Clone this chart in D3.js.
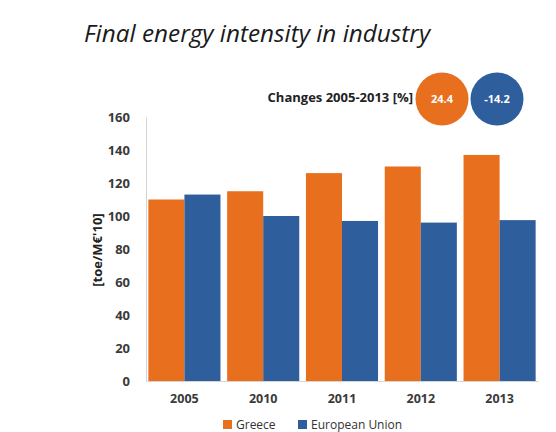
<!DOCTYPE html>
<html>
<head>
<meta charset="utf-8">
<script src="https://cdn.jsdelivr.net/npm/d3@7"></script>
<style>
	body { margin: 0; background: #fff; }
	text { font-family: "Open Sans", "Liberation Sans", sans-serif; }
</style>
</head>
<body>
<div id="chart"></div>
<script>
// data
var years = ["2005", "2010", "2011", "2012", "2013"];
var seriesNames = ["Greece", "European Union"];
var greece = [110, 115, 126, 130, 137];
var eu = [113, 100, 97, 96, 97.5];
var changes = ["24.4", "-14.2"];
var yTicks = [0, 20, 40, 60, 80, 100, 120, 140, 160];

var colors = ["#E86F1E", "#2F5E9C"];

var svgWidth = 556;
var svgHeight = 432;

var margin = { top: 117, right: 18, bottom: 51, left: 146 };
var width = svgWidth - margin.left - margin.right;
var height = svgHeight - margin.top - margin.bottom;

var svg = d3.select("#chart")
	.append("svg")
	.attr("width", svgWidth)
	.attr("height", svgHeight);

// title
svg.append("text")
	.attr("x", 84)
	.attr("y", 42)
	.attr("font-size", 24.3)
	.attr("font-style", "italic")
	.attr("fill", "#1a1a1a")
	.text("Final energy intensity in industry");

// changes badge
svg.append("text")
	.attr("x", 413)
	.attr("y", 102)
	.attr("text-anchor", "end")
	.attr("font-size", 13)
	.attr("font-weight", "bold")
	.attr("fill", "#222")
	.text("Changes 2005-2013 [%]");

var badgeX = [442, 497];
changes.forEach(function(c, i) {
	svg.append("circle")
		.attr("cx", badgeX[i])
		.attr("cy", 99)
		.attr("r", 26.5)
		.attr("fill", colors[i]);
	svg.append("text")
		.attr("x", badgeX[i])
		.attr("y", 103)
		.attr("text-anchor", "middle")
		.attr("font-size", 11)
		.attr("font-weight", "bold")
		.attr("fill", "#fff")
		.text(c);
});

var chartGroup = svg.append("g")
	.attr("transform", `translate(${margin.left}, ${margin.top})`);

var x0 = d3.scaleBand()
	.domain(years)
	.range([0, width])
	.paddingInner(0.085)
	.paddingOuter(0.03);

var x1 = d3.scaleBand()
	.domain(seriesNames)
	.range([0, x0.bandwidth()]);

var y = d3.scaleLinear()
	.domain([0, 160])
	.range([height, 0]);

// y axis
var leftAxis = d3.axisLeft(y)
	.tickValues(yTicks)
	.tickSize(0)
	.tickPadding(16);

var yAxis = chartGroup.append("g").call(leftAxis);
yAxis.select(".domain").attr("stroke", "#d4d4d4");
yAxis.selectAll("text")
	.attr("font-size", 13)
	.attr("font-weight", "bold")
	.attr("fill", "#3a3a3a");

// bars
var rows = years.map(function(yr, i) {
	return { year: yr, values: [greece[i], eu[i]] };
});

var groups = chartGroup.selectAll(".yr")
	.data(rows)
	.enter()
	.append("g")
	.attr("transform", d => `translate(${x0(d.year)}, 0)`);

groups.selectAll("rect")
	.data(d => d.values.map((v, i) => ({ name: seriesNames[i], value: v, i: i })))
	.enter()
	.append("rect")
	.attr("x", d => x1(d.name))
	.attr("y", d => y(d.value))
	.attr("width", x1.bandwidth())
	.attr("height", d => height - y(d.value))
	.attr("fill", d => colors[d.i]);

// x axis
var bottomAxis = d3.axisBottom(x0)
	.tickSize(0)
	.tickPadding(13);

var xAxis = chartGroup.append("g")
	.attr("transform", `translate(0, ${height})`)
	.call(bottomAxis);
xAxis.select(".domain").attr("stroke", "#d4d4d4");
xAxis.selectAll("text")
	.attr("font-size", 12.5)
	.attr("font-weight", "bold")
	.attr("fill", "#3a3a3a");

// y label
svg.append("text")
	.attr("transform", "translate(102, 250) rotate(-90)")
	.attr("text-anchor", "middle")
	.attr("font-size", 13)
	.attr("font-weight", "bold")
	.attr("fill", "#222")
	.text("[toe/M€'10]");

// legend
var legendX = [223, 298];
seriesNames.forEach(function(n, i) {
	svg.append("rect")
		.attr("x", legendX[i])
		.attr("y", 420)
		.attr("width", 9)
		.attr("height", 9)
		.attr("fill", colors[i]);
	svg.append("text")
		.attr("x", legendX[i] + 13)
		.attr("y", 429)
		.attr("font-size", 12)
		.attr("fill", "#333")
		.text(n);
});
</script>
</body>
</html>
